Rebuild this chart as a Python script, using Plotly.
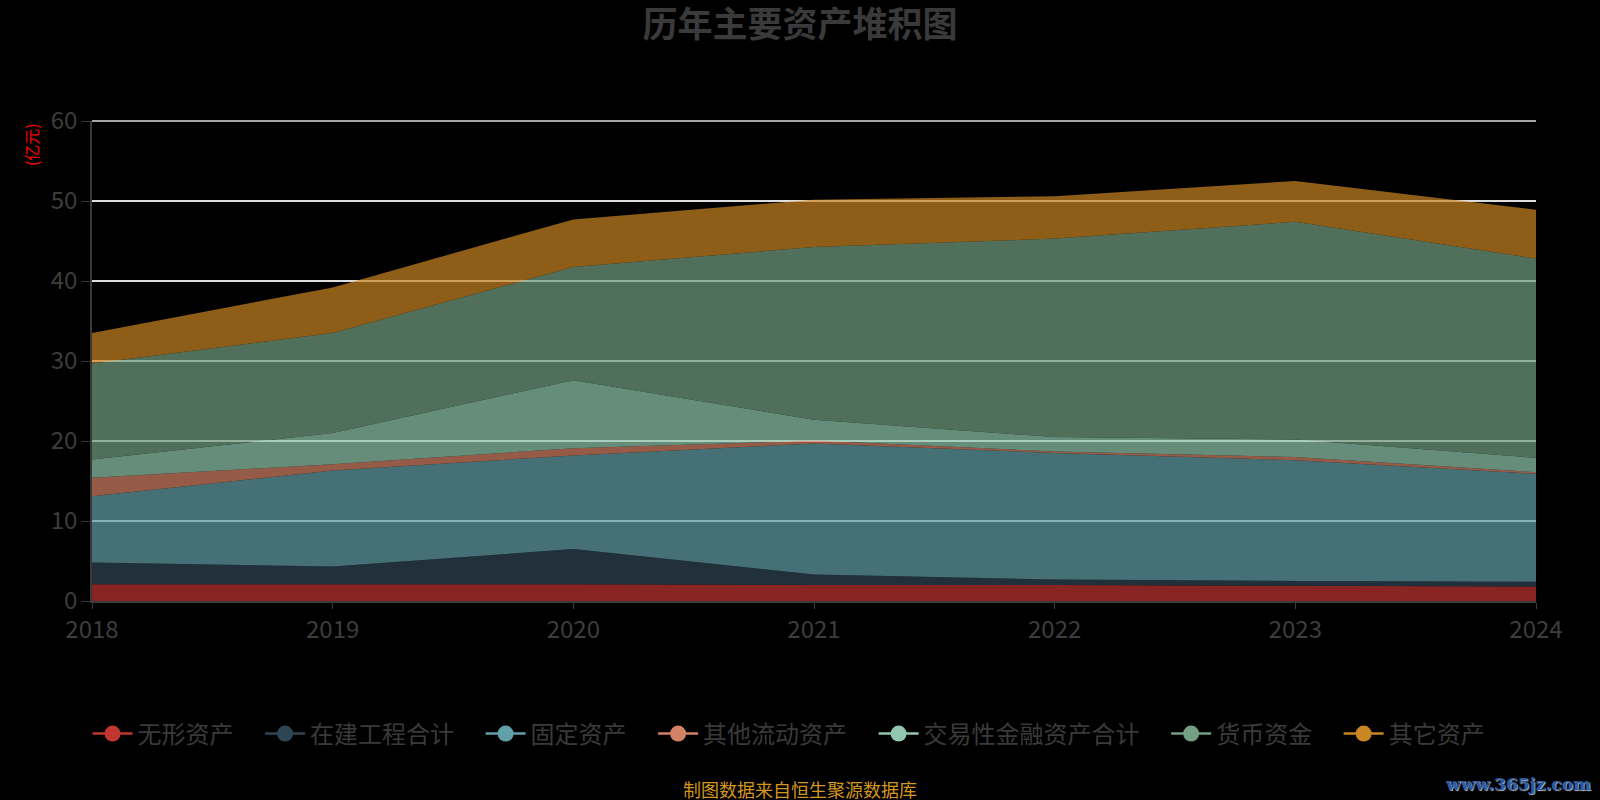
import plotly.graph_objects as go

# 年份
years = [2018, 2019, 2020, 2021, 2022, 2023, 2024]

# 各项资产 (亿元), 自下而上堆积
wuxing = [2.1, 2.1, 2.1, 2.0, 2.0, 1.9, 1.8]          # 无形资产
zaijian = [2.7, 2.2, 4.4, 1.3, 0.7, 0.6, 0.6]         # 在建工程合计
guding = [8.3, 12.0, 11.7, 16.4, 15.8, 15.1, 13.5]    # 固定资产
qita_liudong = [2.3, 0.8, 0.9, 0.35, 0.2, 0.4, 0.2]   # 其他流动资产
jiaoyi = [2.3, 3.9, 8.5, 2.6, 1.8, 2.2, 1.8]          # 交易性金融资产合计
huobi = [12.0, 12.5, 14.15, 21.6, 24.8, 27.2, 24.9]   # 货币资金
qita = [3.8, 5.7, 5.95, 5.9, 5.3, 5.1, 6.1]           # 其它资产

names = ["无形资产", "在建工程合计", "固定资产", "其他流动资产",
         "交易性金融资产合计", "货币资金", "其它资产"]
series = [wuxing, zaijian, guding, qita_liudong, jiaoyi, huobi, qita]
colors = ["#c23531", "#2f4554", "#61a0a8", "#d48265",
          "#91c7ae", "#749f83", "#ca8622"]
y_ticks = [0, 10, 20, 30, 40, 50, 60]

FONT = "Noto Sans CJK SC"
PAD = "\u00a0" * 4  # extra room between legend entries


def rgba(hex_color, alpha):
    h = hex_color.lstrip("#")
    r, g, b = int(h[0:2], 16), int(h[2:4], 16), int(h[4:6], 16)
    return "rgba({},{},{},{})".format(r, g, b, alpha)


fig = go.Figure()

# stacked areas (no legend entry, the legend uses dummy traces below)
for name, vals, c in zip(names, series, colors):
    fig.add_trace(go.Scatter(
        x=years, y=vals, name=name,
        mode="lines", stackgroup="one",
        line=dict(width=0, color=c),
        fillcolor=rgba(c, 0.7),
        showlegend=False, legendgroup=name,
    ))

# legend entries: line + circle
for name, c in zip(names, colors):
    fig.add_trace(go.Scatter(
        x=[None], y=[None], name=name + PAD,
        mode="lines+markers",
        line=dict(width=2.5, color=c),
        marker=dict(size=16, color=c),
        legendgroup=name,
    ))

fig.update_layout(
    width=1600, height=800,
    paper_bgcolor="#000000", plot_bgcolor="#000000",
    font=dict(family=FONT, color="#3d3d3d"),
    margin=dict(l=92, r=64, t=121, b=199),
    title=dict(
        text="<b>历年主要资产堆积图</b>",
        x=0.5, xanchor="center", y=0.969, yanchor="middle",
        font=dict(size=35, color="#3a3a3a", family=FONT),
    ),
    xaxis=dict(
        range=[2018, 2024], tickmode="array", tickvals=years,
        ticktext=[str(y) for y in years],
        showgrid=False, zeroline=False,
        showline=True, linecolor="#3a3a3a", linewidth=1.5,
        ticks="outside", ticklen=6, tickcolor="#3a3a3a",
        tickfont=dict(size=24, color="#3d3d3d"),
    ),
    yaxis=dict(
        range=[0, 60], tickmode="array", tickvals=y_ticks,
        showgrid=True, gridcolor="#dddddd", gridwidth=1.5,
        zeroline=False,
        showline=True, linecolor="#3a3a3a", linewidth=1.5,
        ticks="outside", ticklen=8, tickcolor="#3a3a3a",
        tickfont=dict(size=24, color="#3d3d3d"),
    ),
    legend=dict(
        orientation="h", traceorder="normal",
        x=0.49, xanchor="center", y=-0.277, yanchor="middle",
        font=dict(size=24, color="#3a3a3a"),
        itemwidth=40,
        bgcolor="rgba(0,0,0,0)",
    ),
    showlegend=True,
)

# top grid line (plotly clips the grid line at the end of the range)
fig.add_shape(type="line", xref="paper", yref="paper",
              x0=0, x1=1, y0=1, y1=1,
              line=dict(color="#dddddd", width=1.5), layer="below")

# y axis unit
fig.add_annotation(
    text="(亿元)", textangle=-90, showarrow=False,
    xref="paper", yref="paper", x=-0.0422, y=0.95,
    xanchor="center", yanchor="middle",
    font=dict(size=16, color="#ff0000", family=FONT),
)

# data source
fig.add_annotation(
    text="制图数据来自恒生聚源数据库", showarrow=False,
    xref="paper", yref="paper", x=0.49, y=-0.392,
    xanchor="center", yanchor="middle",
    font=dict(size=18, color="#d4961e", family=FONT),
)

# watermark
fig.add_annotation(
    text="<b>www.365jz.com</b>", showarrow=False,
    xref="paper", yref="paper", x=1.0395, y=-0.381,
    xanchor="right", yanchor="middle",
    font=dict(size=17, color="#2b5aa6", family="DejaVu Serif",
              shadow="1px 1px 1px #bbbbbb"),
)

fig.write_html("out.html", config={"displayModeBar": False},
               post_script="document.body.style.margin='0';")
